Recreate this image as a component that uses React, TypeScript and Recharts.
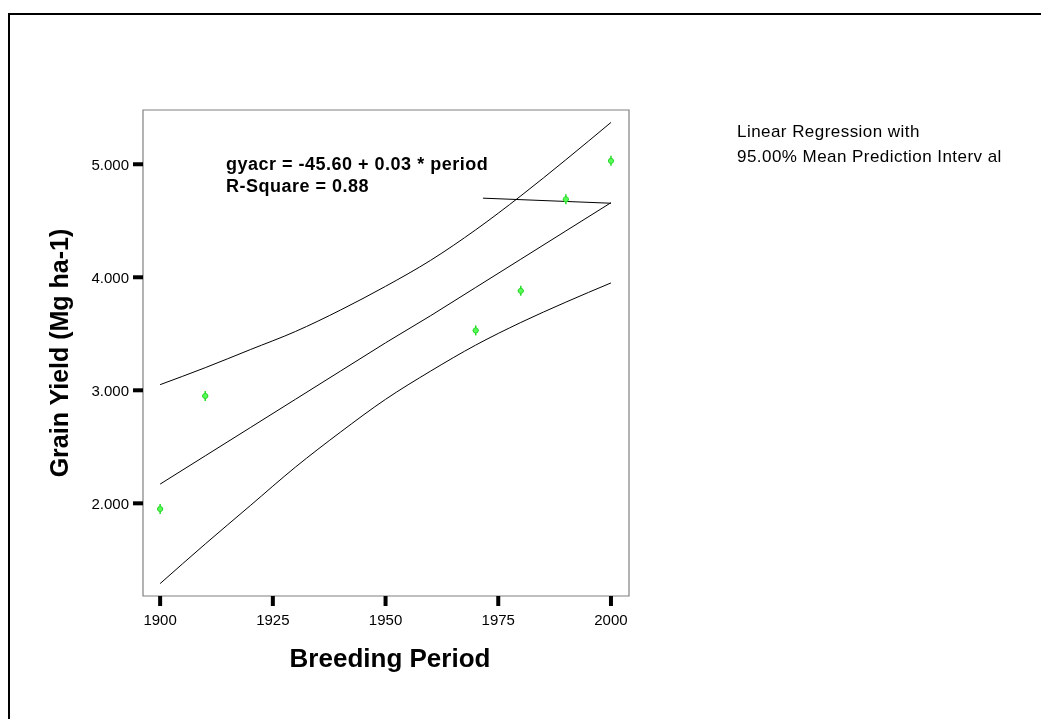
import React from "react";
import {
  ComposedChart,
  Line,
  Scatter,
  XAxis,
  YAxis,
  ReferenceArea,
} from "recharts";

// observed breeding periods and yields (green markers)
const periods = [1900, 1910, 1970, 1980, 1990, 2000];
const yields = [1.95, 2.95, 3.53, 3.88, 4.69, 5.03];

// regression line and 95% mean prediction band
const bandYears = [1900, 1910, 1920, 1930, 1940, 1950, 1960, 1970, 1980, 1990, 2000];
const fitValues = [2.17, 2.42, 2.67, 2.92, 3.17, 3.42, 3.66, 3.91, 4.16, 4.41, 4.66];
const upperValues = [3.05, 3.2, 3.36, 3.52, 3.71, 3.92, 4.15, 4.42, 4.72, 5.04, 5.37];
const lowerValues = [1.29, 1.64, 1.98, 2.32, 2.63, 2.92, 3.17, 3.4, 3.6, 3.78, 3.95];

// the stray leader line SPSS drew from the label towards the fit end
const leaderYears = [1971.6, 2000];
const leaderValues = [4.7, 4.655];

const xTicks = [1900, 1925, 1950, 1975, 2000];
const yTicks = [2, 3, 4, 5];
const xDomain = [1896.2, 2004];
const yDomain = [1.18, 5.48];

const FONT = "'Liberation Sans', Arial, Helvetica, sans-serif";

const toPoints = (xs: number[], ys: number[]) =>
  xs.map((x, i) => ({ x, y: ys[i] }));

function Marker(props: any) {
  const { cx, cy } = props;
  if (cx == null || cy == null) return null;
  return (
    <g>
      <line x1={cx} y1={cy - 5} x2={cx} y2={cy + 5} stroke="#22dd22" strokeWidth={1.5} />
      <line x1={cx - 3} y1={cy} x2={cx + 3} y2={cy} stroke="#22dd22" strokeWidth={1.5} />
      <circle cx={cx} cy={cy} r={2.6} fill="#55ff55" stroke="#22cc22" strokeWidth={0.8} />
    </g>
  );
}

export default function App() {
  const fit = toPoints(bandYears, fitValues);
  const upper = toPoints(bandYears, upperValues);
  const lower = toPoints(bandYears, lowerValues);
  const obs = toPoints(periods, yields);
  const leader = toPoints(leaderYears, leaderValues);

  return (
    <div style={{ position: "relative", width: 1025, height: 700, fontFamily: FONT }}>
      {/* outer frame, runs off the right and bottom edges */}
      <div
        style={{
          position: "fixed",
          left: 8,
          top: 13,
          right: -20,
          bottom: -20,
          borderTop: "2px solid #000",
          borderLeft: "2px solid #000",
        }}
      />
      <div style={{ position: "absolute", left: 0, top: 0 }}>
        <ComposedChart
          width={1025}
          height={700}
          margin={{ top: 102, right: 404, bottom: 82, left: 0 }}
        >
          <XAxis
            type="number"
            dataKey="x"
            domain={xDomain}
            ticks={xTicks}
            interval={0}
            allowDataOverflow
            axisLine={false}
            tickLine={{ stroke: "#000", strokeWidth: 4 }}
            tickSize={10}
            tickMargin={8}
            height={30}
            tick={{ fontSize: 15, fill: "#000" }}
          />
          <YAxis
            type="number"
            dataKey="y"
            domain={yDomain}
            ticks={yTicks}
            interval={0}
            allowDataOverflow
            axisLine={false}
            tickLine={{ stroke: "#000", strokeWidth: 4 }}
            tickSize={10}
            tickMargin={4}
            width={135}
            tick={{ fontSize: 15, fill: "#000" }}
            tickFormatter={(v: number) => v.toFixed(3)}
          />
          <ReferenceArea
            x1={xDomain[0]}
            x2={xDomain[1]}
            y1={yDomain[0]}
            y2={yDomain[1]}
            fill="none"
            stroke="#808080"
            strokeWidth={1.2}
            ifOverflow="visible"
          />
          <Line
            data={upper}
            dataKey="y"
            type="monotone"
            stroke="#000"
            strokeWidth={1}
            dot={false}
            isAnimationActive={false}
          />
          <Line
            data={fit}
            dataKey="y"
            type="linear"
            stroke="#000"
            strokeWidth={1}
            dot={false}
            isAnimationActive={false}
          />
          <Line
            data={lower}
            dataKey="y"
            type="monotone"
            stroke="#000"
            strokeWidth={1}
            dot={false}
            isAnimationActive={false}
          />
          <Line
            data={leader}
            dataKey="y"
            type="linear"
            stroke="#000"
            strokeWidth={1}
            dot={false}
            isAnimationActive={false}
          />
          <Scatter data={obs} dataKey="y" shape={<Marker />} isAnimationActive={false} />
        </ComposedChart>
      </div>

      {/* text layer, coordinates relative to the wrapper */}
      <svg
        width={1025}
        height={700}
        style={{ position: "absolute", left: 0, top: 0, pointerEvents: "none" }}
      >
        <text x={218} y={162} fontSize={18} fontWeight="bold" letterSpacing={0.5} fill="#000">
          gyacr = -45.60 + 0.03 * period
        </text>
        <text x={218} y={184} fontSize={18} fontWeight="bold" letterSpacing={0.5} fill="#000">
          R-Square = 0.88
        </text>
        <text x={729} y={129} fontSize={17} letterSpacing={0.45} fill="#000">
          Linear Regression with
        </text>
        <text x={729} y={154} fontSize={17} letterSpacing={0.45} fill="#000">
          95.00% Mean Prediction Interv al
        </text>
        <text x={382} y={659} fontSize={26} fontWeight="bold" textAnchor="middle" fill="#000">
          Breeding Period
        </text>
        <text
          x={60}
          y={345}
          fontSize={25}
          fontWeight="bold"
          textAnchor="middle"
          fill="#000"
          transform="rotate(-90 60 345)"
        >
          Grain Yield (Mg ha-1)
        </text>
      </svg>
    </div>
  );
}
